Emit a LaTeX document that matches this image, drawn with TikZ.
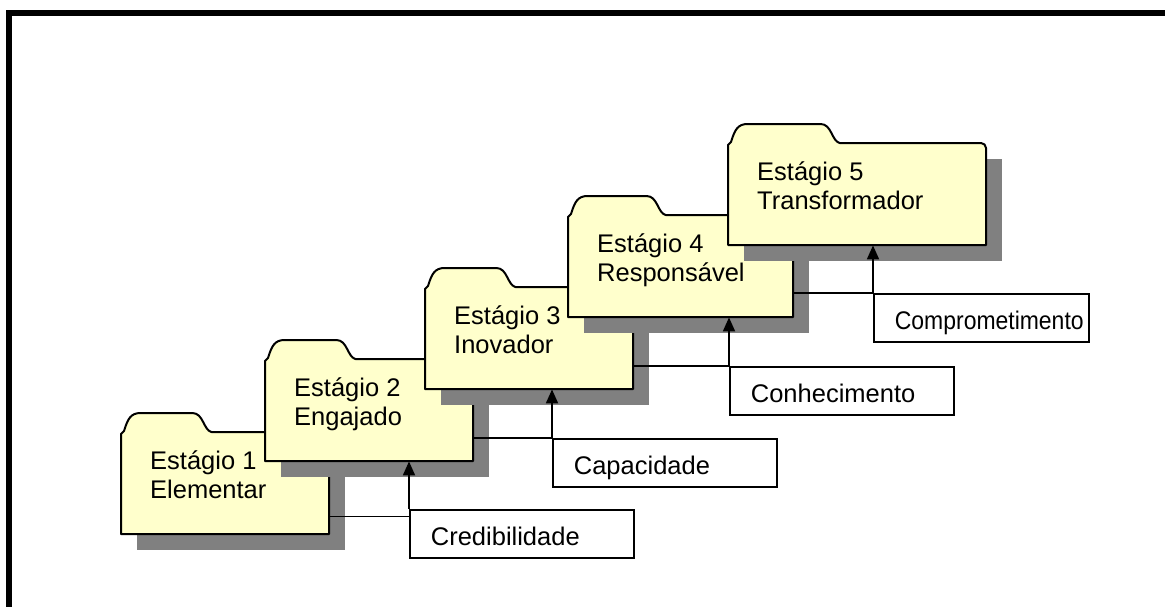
\documentclass[tikz,border=0pt]{standalone}
\usepackage{fontspec}
\setmainfont{Liberation Sans}
\usepackage{tikz}
\usetikzlibrary{calc,arrows.meta}
\definecolor{pastaamarela}{RGB}{255,255,204}
\definecolor{sombracinza}{RGB}{128,128,128}
\tikzset{
	pastacorpo/.style={draw=black, line width=2pt, fill=pastaamarela, line join=round},
	pastasombra/.style={fill=sombracinza},
	pastatexto/.style={anchor=north west, align=left, inner sep=0pt, font=\fontsize{25.5}{29}\selectfont},
	rotulo/.style={draw=black, line width=1.8pt, fill=white, anchor=north west, minimum width=224pt, minimum height=48pt, inner xsep=21pt, inner ysep=0pt, text height=24pt, text depth=0pt, font=\fontsize{25.5}{29}\selectfont},
	ligacao/.style={line width=1.8pt},
	seta/.style={line width=1.8pt, -{Triangle[width=12pt,length=14pt]}}
}
% pasta: [nome](esquerda,topo)(largura){texto}
\def\pasta[#1](#2,#3)(#4)#5{
	\fill[pastasombra] (#2+16,#3+16) rectangle (#2+#4+16,#3+118);
	\draw[pastacorpo] (#2,#3+2) -- (#2+3,#3-1) .. controls (#2+7,#3-14) and (#2+10,#3-19) .. (#2+20,#3-19)
		-- (#2+0.425*#4-17,#3-19) .. controls (#2+0.425*#4-6,#3-19) and (#2+0.425*#4-6,#3-2) .. (#2+0.425*#4+2,#3)
		[rounded corners=5] -- (#2+#4,#3) [sharp corners] -- (#2+#4,#3+102) -- (#2,#3+102) -- cycle;
	\node[anchor=north west, minimum width=#4pt, minimum height=102pt, inner sep=0pt] (#1) at (#2,#3) {};
	\node[pastatexto] (#1t) at (#2+29,#3+19) {#5};
}

\begin{document}
\begin{tikzpicture}[x=1pt, y=-1pt]
	%%%%% START %%%%%
	\useasboundingbox (0,0) rectangle (1165,606);

	\draw[line width=6pt] (9,620) -- (9,13) -- (1180,13);

	\pasta[p1](121,432)(208){Estágio 1\\Elementar}
	\pasta[p2](265,359)(208){Estágio 2\\Engajado}
	\pasta[p3](425,287)(208){Estágio 3\\Inovador}
	\pasta[p4](568,215)(225){Estágio 4\\Responsável}
	\pasta[p5](728,143)(258){Estágio 5\\Transformador}

	\node[rotulo] (cred) at (409,509) {\makebox[182pt][l]{Credibilidade}};
	\node[rotulo] (cap) at (552,438) {\makebox[182pt][l]{Capacidade}};
	\node[rotulo] (conh) at (729,366) {\makebox[182pt][l]{Conhecimento}};
	\node[rotulo, minimum width=215pt] (comp) at (873,293) {\makebox[173pt][l]{\scalebox{0.9}[1]{Comprometimento}}};

	\draw[ligacao] (p1.south east) ++(0,-18) coordinate (h1) -- (h1 -| cred.west);
	\draw[seta] (cred.north west) -- (cred.north west |- p2.south);
	\draw[ligacao] (p2.east |- cap.north) -- (cap.north west);
	\draw[seta] (cap.north west) -- (cap.north west |- p3.south);
	\draw[ligacao] (p3.east |- conh.north) -- (conh.north west);
	\draw[seta] (conh.north west) -- (conh.north west |- p4.south);
	\draw[ligacao] (p4.east |- comp.north) -- (comp.north west);
	\draw[seta] (comp.north west) -- (comp.north west |- p5.south);

	%%%%% END %%%%%
\end{tikzpicture}
\end{document}
